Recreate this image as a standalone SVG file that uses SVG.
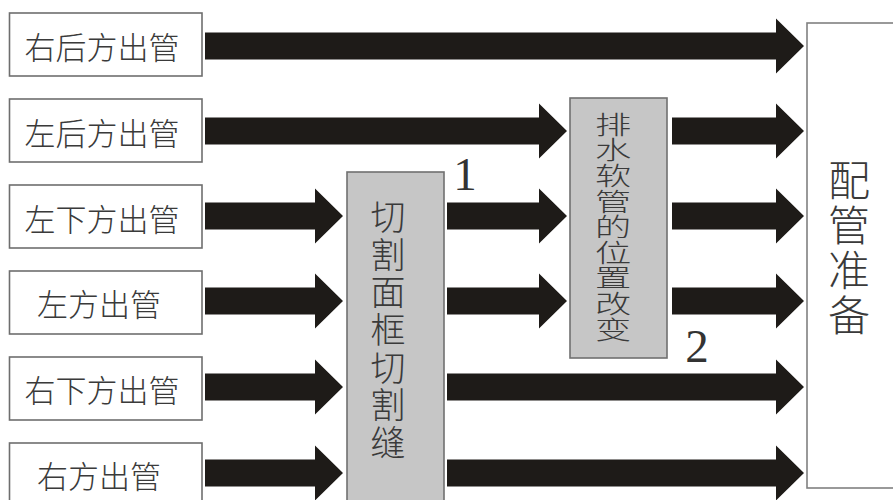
<svg xmlns="http://www.w3.org/2000/svg" width="893" height="500" viewBox="0 0 893 500">
<style>
.bg{fill:#ffffff}
.src{fill:#ffffff;stroke:#6e6e6e;stroke-width:1.6}
.proc{fill:#c6c6c6;stroke:#707070;stroke-width:1.6}
.dst{fill:#ffffff;stroke:#808080;stroke-width:1.6}
.arrow{fill:#1e1b18}
.t{font-family:"Noto Sans CJK SC","Noto Sans CJK JP",sans-serif;font-weight:300;fill:#3a3a3a;dominant-baseline:central;text-anchor:middle}
.v{font-family:"Noto Sans CJK SC","Noto Sans CJK JP",sans-serif;font-weight:300;fill:#3a3a3a;writing-mode:vertical-rl;text-anchor:middle}
.num{font-family:"Liberation Serif",serif;fill:#333333;font-size:47px;text-anchor:middle}
</style>
<rect class="bg" x="0" y="0" width="893" height="500"/>
<g id="connectors">
<path class="arrow" d="M205 32.5 H776 V18.5 L804 46 L776 73.5 V59.5 H205 Z"/>
<path class="arrow" d="M205 117.5 H539 V103.5 L567 131 L539 158.5 V144.5 H205 Z"/>
<path class="arrow" d="M205 202.5 H315 V188.5 L343 216 L315 243.5 V229.5 H205 Z"/>
<path class="arrow" d="M205 287.5 H315 V273.5 L343 301 L315 328.5 V314.5 H205 Z"/>
<path class="arrow" d="M205 373.5 H315 V359.5 L343 387 L315 414.5 V400.5 H205 Z"/>
<path class="arrow" d="M205 459.5 H315 V445.5 L343 473 L315 500.5 V486.5 H205 Z"/>
<path class="arrow" d="M447 202.5 H539 V188.5 L567 216 L539 243.5 V229.5 H447 Z"/>
<path class="arrow" d="M447 287.5 H539 V273.5 L567 301 L539 328.5 V314.5 H447 Z"/>
<path class="arrow" d="M447 373.5 H776 V359.5 L804 387 L776 414.5 V400.5 H447 Z"/>
<path class="arrow" d="M447 459.5 H776 V445.5 L804 473 L776 500.5 V486.5 H447 Z"/>
<path class="arrow" d="M672 117.5 H776 V103.5 L804 131 L776 158.5 V144.5 H672 Z"/>
<path class="arrow" d="M672 202.5 H776 V188.5 L804 216 L776 243.5 V229.5 H672 Z"/>
<path class="arrow" d="M672 287.5 H776 V273.5 L804 301 L776 328.5 V314.5 H672 Z"/>
<text class="num" x="465" y="190">1</text>
<text class="num" x="697" y="362">2</text>
</g>
<g id="src1"><rect class="src" x="9.5" y="13" width="192.5" height="63"/><text class="t" x="102" y="45" font-size="31">右后方出管</text></g>
<g id="src2"><rect class="src" x="9.5" y="99" width="192.5" height="63"/><text class="t" x="102" y="131" font-size="31">左后方出管</text></g>
<g id="src3"><rect class="src" x="9.5" y="185" width="192.5" height="63"/><text class="t" x="102" y="217" font-size="31">左下方出管</text></g>
<g id="src4"><rect class="src" x="9.5" y="271" width="192.5" height="63"/><text class="t" x="99" y="302" font-size="31">左方出管</text></g>
<g id="src5"><rect class="src" x="9.5" y="357" width="192.5" height="63"/><text class="t" x="102" y="388" font-size="31">右下方出管</text></g>
<g id="src6"><rect class="src" x="9.5" y="443" width="192.5" height="63"/><text class="t" x="99" y="474" font-size="31">右方出管</text></g>
<g id="cut"><rect class="proc" x="347" y="172" width="97" height="340"/>
<text class="v" x="388" y="331" font-size="35" letter-spacing="2.7">切割面框切割缝</text></g>
<g id="hose"><rect class="proc" x="570" y="98" width="97" height="260"/>
<text class="v" font-size="25" letter-spacing="0.6" transform="translate(613 0) scale(1.45 1)" x="0" y="227">排水软管的位置改变</text></g>
<g id="prep"><rect class="dst" x="807" y="23" width="100" height="465"/>
<text class="v" x="849" y="249" font-size="42" letter-spacing="3">配管准备</text></g>
</svg>
